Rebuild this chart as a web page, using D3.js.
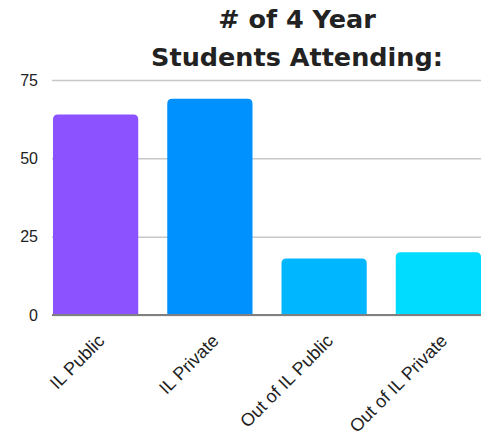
<!DOCTYPE html>
<html>
<head>
<meta charset="utf-8">
<script src="https://cdn.jsdelivr.net/npm/d3@7"></script>
<style>
  body { margin: 0; background: #fff; }
</style>
</head>
<body>
<div id="bar-chart"></div>
<script>
var categories = ['IL Public', 'IL Private', 'Out of IL Public', 'Out of IL Private']
var values = [64, 69, 18, 20]
var colors = ['#8c52ff', '#0091ff', '#00b7ff', '#00dcff']
var yTicks = [0, 25, 50, 75]
var titleLines = ['# of 4 Year', 'Students Attending:']

var margin = { top: 80, left: 53, right: 10, bottom: 129 }
var width = 491 - margin.left - margin.right
var height = 444 - margin.top - margin.bottom

var svg = d3
  .select('#bar-chart')
  .append('svg')
  .attr('width', 491)
  .attr('height', 444)

var g = svg
  .append('g')
  .attr('transform', 'translate(' + margin.left + ',' + margin.top + ')')

var xPositionScale = d3
  .scaleBand()
  .domain(categories)
  .range([0, 428])
  .paddingInner(0.254)
  .paddingOuter(0)

var yPositionScale = d3
  .scaleLinear()
  .domain([0, 75])
  .range([height, 0])

// gridlines
var yAxis = d3
  .axisLeft(yPositionScale)
  .tickValues(yTicks)
  .tickSize(-429)
  .tickPadding(14)
g.append('g')
  .attr('class', 'axis y-axis')
  .attr('transform', 'translate(-1,0)')
  .call(yAxis)
g.select('.y-axis .domain').remove()
g.selectAll('.y-axis line')
  .attr('stroke', '#c8c8c8')
  .attr('stroke-width', 1.5)
g.selectAll('.y-axis text')
  .attr('font-family', 'Liberation Sans, Arial, sans-serif')
  .attr('font-size', 16)
  .attr('fill', '#222')

// bars with rounded top corners
var r = 5
g.selectAll('.bar')
  .data(values)
  .enter()
  .append('path')
  .attr('class', 'bar')
  .attr('fill', function(d, i) {
    return colors[i]
  })
  .attr('d', function(d, i) {
    var x0 = xPositionScale(categories[i])
    var w = xPositionScale.bandwidth()
    var y0 = yPositionScale(d)
    var yb = yPositionScale(0)
    return (
      'M' + x0 + ',' + yb +
      'V' + (y0 + r) +
      'Q' + x0 + ',' + y0 + ' ' + (x0 + r) + ',' + y0 +
      'H' + (x0 + w - r) +
      'Q' + (x0 + w) + ',' + y0 + ' ' + (x0 + w) + ',' + (y0 + r) +
      'V' + yb + 'Z'
    )
  })

// baseline
g.append('line')
  .attr('x1', -1)
  .attr('x2', 428)
  .attr('y1', yPositionScale(0))
  .attr('y2', yPositionScale(0))
  .attr('stroke', '#7f7f7f')
  .attr('stroke-width', 2)

// x labels
var xAxis = d3.axisBottom(xPositionScale).tickSize(0).tickPadding(0)
g.append('g')
  .attr('class', 'axis x-axis')
  .attr('transform', 'translate(0,' + height + ')')
  .call(xAxis)
g.select('.x-axis .domain').remove()
g.selectAll('.x-axis text')
  .attr('font-family', 'Liberation Sans, Arial, sans-serif')
  .attr('font-size', 18)
  .attr('fill', '#222')
  .attr('text-anchor', 'end')
  .attr('dy', 0)
  .attr('transform', 'translate(10,27) rotate(-45)')

// title
svg
  .append('text')
  .attr('x', 297)
  .attr('y', 28)
  .attr('text-anchor', 'middle')
  .attr('font-family', 'DejaVu Sans, sans-serif')
  .attr('font-weight', 'bold')
  .attr('font-size', 25.5)
  .attr('fill', '#222')
  .selectAll('tspan')
  .data(titleLines)
  .enter()
  .append('tspan')
  .attr('x', 297)
  .attr('dy', function(d, i) {
    return i === 0 ? 0 : 38
  })
  .text(function(d) {
    return d
  })
</script>
</body>
</html>
